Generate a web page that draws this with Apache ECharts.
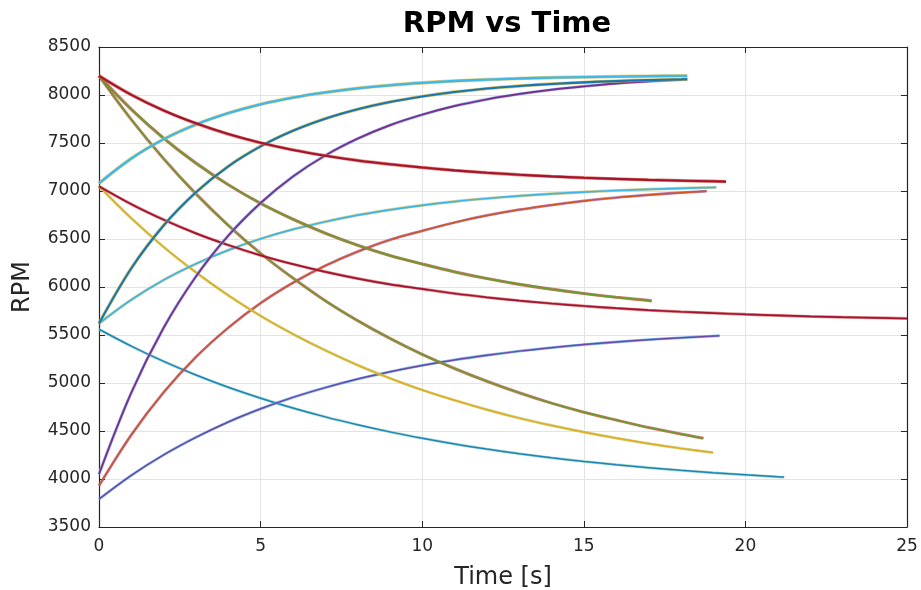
<!DOCTYPE html>
<html>
<head>
<meta charset="utf-8">
<title>RPM vs Time</title>
<script src="https://cdn.jsdelivr.net/npm/echarts@6/dist/echarts.min.js"></script>
<style>
  html, body { margin: 0; padding: 0; background: #ffffff; }
  #chart { width: 921px; height: 590px; }
</style>
</head>
<body>
<div id="chart"></div>
<script>
// Axis ticks
const xTicks = [0, 5, 10, 15, 20, 25];
const yTicks = [3500, 4000, 4500, 5000, 5500, 6000, 6500, 7000, 7500, 8000, 8500];

// Step-response runs: time [s] and measured RPM
const tRedHigh = [0,1,2,3,4,5,6,7,8,9,10,11,12,13,14,15,16,17,18,19,19.4];
const rpmRedHigh = [8200,8002,7839,7705,7593,7502,7428,7368,7318,7278,7245,7215,7190,7170,7152,7138,7126,7116,7108,7101,7098];

const tBlueHigh = [0,1,2,3,4,5,6,7,8,9,10,11,12,13,14,15,16,17,18,18.2];
const rpmBlueHigh = [7080,7339,7539,7693,7811,7903,7973,8027,8069,8101,8126,8146,8160,8172,8181,8187,8192,8196,8200,8200];

const tTealRise = [0,1,2,3,4,5,6,7,8,9,10,11,12,13,14,15,16,17,18,18.2];
const rpmTealRise = [5620,6195,6641,6987,7257,7465,7627,7753,7851,7927,7985,8031,8067,8094,8115,8132,8145,8155,8163,8165];

const tPurpleRise = [0,1,2,3,4,5,6,7,8,9,10,11,12,13,14,15,16,17,18,18.2];
const rpmPurpleRise = [4050,4900,5575,6110,6535,6875,7150,7370,7545,7685,7795,7885,7955,8010,8055,8090,8120,8142,8160,8163];

const tGreenSlow = [0,1,2,3,4,5,6,7,8,9,10,11,12,13,14,15,16,17,17.1];
const rpmGreenSlow = [8200,7851,7550,7290,7065,6871,6706,6561,6436,6328,6240,6158,6088,6028,5977,5932,5893,5860,5856];

const tGreenFast = [0,1,2,3,4,5,6,7,8,9,10,11,12,13,14,15,16,17,18,18.7];
const rpmGreenFast = [8200,7744,7336,6970,6643,6351,6093,5857,5650,5465,5298,5151,5018,4898,4790,4696,4614,4536,4468,4425];

const tRedLow = [0,1,2,3,4,5,6,7,8,9,10,11,12,13,14,15,16,17,18,19,20,21,22,23,24,25];
const rpmRedLow = [7050,6863,6701,6559,6437,6330,6238,6158,6088,6028,5980,5932,5892,5858,5828,5802,5779,5759,5742,5728,5715,5704,5694,5686,5679,5672];

const tYellow = [0,1,2,3,4,5,6,7,8,9,10,11,12,13,14,15,16,17,18,19];
const rpmYellow = [7050,6716,6417,6152,5913,5699,5510,5340,5186,5050,4927,4820,4722,4634,4558,4489,4426,4369,4319,4275];

const tBlueLow = [0,1,2,3,4,5,6,7,8,9,10,11,12,13,14,15,16,17,18,19,19.1];
const rpmBlueLow = [5620,5867,6073,6242,6384,6502,6600,6680,6749,6804,6851,6890,6922,6949,6971,6989,7005,7017,7028,7037,7038];

const tOrange = [0,1,2,3,4,5,6,7,8,9,10,11,12,13,14,15,16,17,18,18.8];
const rpmOrange = [3930,4460,4903,5271,5576,5832,6044,6221,6368,6491,6585,6672,6745,6805,6854,6896,6931,6959,6983,6998];

const tTealFall = [0,1,2,3,4,5,6,7,8,9,10,11,12,13,14,15,16,17,18,19,20,21,21.2];
const rpmTealFall = [5560,5384,5225,5083,4955,4842,4739,4647,4565,4491,4425,4365,4312,4264,4221,4183,4149,4118,4090,4065,4043,4023,4020];

const tPurpleLow = [0,1,2,3,4,5,6,7,8,9,10,11,12,13,14,15,16,17,18,19,19.2];
const rpmPurpleLow = [3790,4038,4251,4434,4594,4731,4850,4952,5041,5117,5183,5240,5289,5332,5368,5400,5427,5451,5471,5489,5492];

// Each trace: data plus a core colour and a speckle colour around it
const traces = [
  { t: tTealFall,   v: rpmTealFall,   core: '#1C86B8', edge: '#8FC9C0', w: 2.8 },
  { t: tPurpleLow,  v: rpmPurpleLow,  core: '#6A48A8', edge: '#5CA6E0', w: 2.8 },
  { t: tOrange,     v: rpmOrange,     core: '#D4531F', edge: '#A05A9A', w: 2.8 },
  { t: tYellow,     v: rpmYellow,     core: '#E2AE1E', edge: '#B8C060', w: 2.8 },
  { t: tBlueLow,    v: rpmBlueLow,    core: '#3DB6EA', edge: '#C8C070', w: 3.0 },
  { t: tGreenFast,  v: rpmGreenFast,  core: '#6E9A2A', edge: '#C05050', w: 3.0 },
  { t: tGreenSlow,  v: rpmGreenSlow,  core: '#6E9A2A', edge: '#C05050', w: 3.2 },
  { t: tRedLow,     v: rpmRedLow,     core: '#A2142F', edge: '#D06060', w: 3.0 },
  { t: tPurpleRise, v: rpmPurpleRise, core: '#7B2F8E', edge: '#7FB8E8', w: 3.2 },
  { t: tTealRise,   v: rpmTealRise,   core: '#1777AE', edge: '#C8B040', w: 3.4 },
  { t: tBlueHigh,   v: rpmBlueHigh,   core: '#3DB8EC', edge: '#D8C050', w: 3.6 },
  { t: tRedHigh,    v: rpmRedHigh,    core: '#A2142F', edge: '#D86048', w: 3.4 }
];

const series = [];
traces.forEach(function (tr, i) {
  const pts = tr.t.map(function (x, k) { return [x, tr.v[k]]; });
  series.push({
    type: 'line', data: pts, smooth: 0.35, showSymbol: false, silent: true,
    lineStyle: { color: tr.edge, width: tr.w, opacity: 0.75 }, z: 2 + i * 2
  });
  series.push({
    type: 'line', data: pts, smooth: 0.35, showSymbol: false, silent: true,
    lineStyle: { color: tr.core, width: tr.w - 1.3 }, z: 3 + i * 2
  });
});

const axisInk = '#262626';
const gridInk = '#e3e3e3';
const fontFam = 'DejaVu Sans';

function xAxisCfg(pos, show) {
  return {
    type: 'value', position: pos, min: xTicks[0], max: xTicks[xTicks.length - 1], interval: 5,
    axisLine: { show: true, onZero: false, lineStyle: { color: axisInk, width: 1.2 } },
    axisTick: { show: true, inside: true, length: 6, lineStyle: { color: axisInk } },
    axisLabel: { show: show, color: axisInk, fontFamily: fontFam, fontSize: 17, margin: 11,
                 formatter: function (v) { return String(v); } },
    splitLine: { show: show, lineStyle: { color: gridInk, width: 1 } },
    name: show ? 'Time [s]' : '', nameLocation: 'middle', nameGap: 39,
    nameTextStyle: { color: axisInk, fontFamily: fontFam, fontSize: 24 }
  };
}
function yAxisCfg(pos, show) {
  return {
    type: 'value', position: pos, min: yTicks[0], max: yTicks[yTicks.length - 1], interval: 500,
    axisLine: { show: true, onZero: false, lineStyle: { color: axisInk, width: 1.2 } },
    axisTick: { show: true, inside: true, length: 6, lineStyle: { color: axisInk } },
    axisLabel: { show: show, color: axisInk, fontFamily: fontFam, fontSize: 17, margin: 8,
                 formatter: function (v) { return String(v); } },
    splitLine: { show: show, lineStyle: { color: gridInk, width: 1 } },
    name: show ? 'RPM' : '', nameLocation: 'middle', nameGap: 64, nameRotate: 90,
    nameTextStyle: { color: axisInk, fontFamily: fontFam, fontSize: 24 }
  };
}

const chart = echarts.init(document.getElementById('chart'), null, { renderer: 'canvas' });
chart.setOption({
  animation: false,
  backgroundColor: '#ffffff',
  title: {
    text: 'RPM vs Time', left: 502, top: 5, textAlign: 'center',
    textStyle: { fontFamily: fontFam, fontSize: 29, fontWeight: 'bold', color: '#000000' }
  },
  grid: { left: 99, right: 14, top: 47, bottom: 63, containLabel: false, outerBoundsMode: 'none' },
  xAxis: [xAxisCfg('bottom', true), xAxisCfg('top', false)],
  yAxis: [yAxisCfg('left', true), yAxisCfg('right', false)],
  series: series
});
</script>
</body>
</html>
